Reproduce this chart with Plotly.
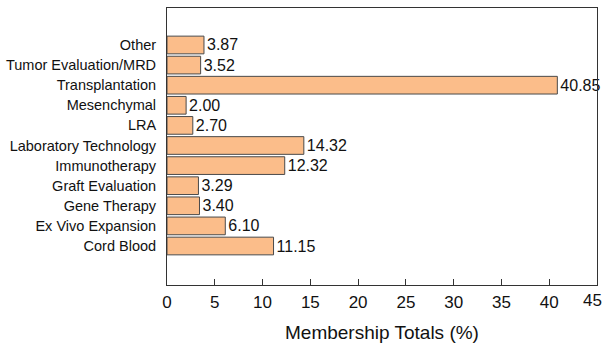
import plotly.graph_objects as go

categories = ["Cord Blood", "Ex Vivo Expansion", "Gene Therapy", "Graft Evaluation",
              "Immunotherapy", "Laboratory Technology", "LRA", "Mesenchymal",
              "Transplantation", "Tumor Evaluation/MRD", "Other"]
values = [11.15, 6.10, 3.40, 3.29, 12.32, 14.32, 2.70, 2.00, 40.85, 3.52, 3.87]
x_ticks = [0, 5, 10, 15, 20, 25, 30, 35, 40, 45]

FONT = "Liberation Sans, Arial, sans-serif"

fig = go.Figure(go.Bar(
    x=values,
    y=categories,
    orientation="h",
    width=0.88,
    marker=dict(color="#FBBD8A", line=dict(color="#4a4a4a", width=1)),
    text=[f"{v:.2f}" for v in values],
    textposition="outside",
    textfont=dict(family=FONT, size=16, color="#111111"),
    cliponaxis=False,
))

# last tick label sits on the page edge, so pin it inside the page
fig.add_annotation(
    x=1, xref="paper", y=0, yref="paper", yshift=-15, xshift=7,
    text=str(x_ticks[-1]), showarrow=False, xanchor="right", yanchor="middle",
    font=dict(family=FONT, size=17, color="#111111"),
)
fig.add_annotation(
    x=0.5, xref="paper", y=0, yref="paper", yshift=-47,
    text="Membership Totals (%)", showarrow=False, xanchor="center", yanchor="middle",
    font=dict(family=FONT, size=19, color="#111111"),
)

fig.update_layout(
    width=605, height=343,
    margin=dict(l=167, r=8, t=8, b=58),
    paper_bgcolor="white",
    plot_bgcolor="white",
    showlegend=False,
    font=dict(family=FONT, size=15, color="#111111"),
    xaxis=dict(
        range=[0, 45],
        tickvals=x_ticks[:-1],
        ticks="inside", ticklen=6, tickcolor="#333333",
        showgrid=False, zeroline=False,
        showline=True, linecolor="#333333", linewidth=1, mirror=True,
        tickfont=dict(family=FONT, size=17),
        ticklabelstandoff=2,
        automargin=False,
    ),
    yaxis=dict(
        range=[-1.94, 11.84],
        showgrid=False, zeroline=False,
        showline=True, linecolor="#333333", linewidth=1, mirror=True,
        ticks="", ticklen=0, ticklabelstandoff=7,
        tickfont=dict(family=FONT, size=14.5),
        automargin=False,
    ),
)

fig.write_html("out.html")
